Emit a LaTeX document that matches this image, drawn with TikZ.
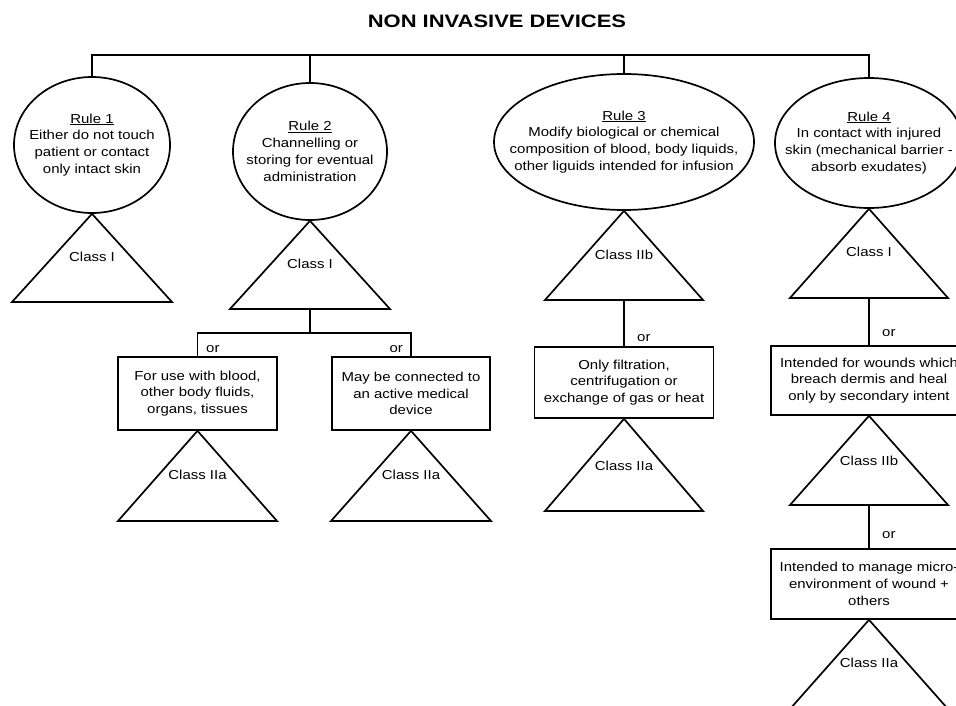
\documentclass[tikz,border=0pt]{standalone}
\usepackage{fontspec}
\setmainfont{Liberation Sans}
\newfontfamily\bodyfont[FakeStretch=1.15]{Liberation Sans}
\newfontfamily\headfont[FakeStretch=1.22]{Liberation Sans}
\usetikzlibrary{shapes.geometric}

\begin{document}
\begin{tikzpicture}[x=1pt,y=-1pt,
  txt/.style={font=\bodyfont\fontsize{13}{16.8}\selectfont, align=center, inner sep=0pt},
  rulebox/.style={draw, ellipse, line width=1.7pt, inner sep=0pt},
  optbox/.style={draw, rectangle, line width=1.7pt, inner sep=0pt, txt},
  link/.style={line width=1.1pt},
  tri/.style={line width=1.7pt, line join=miter},
  cls/.style={txt, fill=white, inner sep=1pt},
  orlab/.style={txt, anchor=west}
]
\useasboundingbox (0,0) rectangle (956,706);
\clip (0,0) rectangle (956,706);

% heading
\node[font=\headfont\bfseries\fontsize{18}{20}\selectfont] (title) at (497,21) {NON INVASIVE DEVICES};

% the four rules
\node[rulebox, minimum width=156pt, minimum height=136pt] (r1) at (92,145) {};
\node[txt] (r1t) at (r1.center) {\underline{Rule 1}\\Either do not touch\\patient or contact\\only intact skin};

\node[rulebox, minimum width=154pt, minimum height=137pt] (r2) at (310,151.5) {};
\node[txt] (r2t) at (r2.center) {\underline{Rule 2}\\Channelling or\\storing for eventual\\administration};

\node[rulebox, minimum width=260pt, minimum height=136pt] (r3) at (624,142) {};
\node[txt] (r3t) at (r3.center) {\underline{Rule 3}\\Modify biological or chemical\\composition of blood, body liquids,\\other liguids intended for infusion};

\node[rulebox, minimum width=188pt, minimum height=130pt] (r4) at (869,143) {};
\node[txt] (r4t) at (r4.center) {\underline{Rule 4}\\In contact with injured\\skin (mechanical barrier -\\absorb exudates)};

% bus from the heading to every rule
\coordinate (bus1) at (92,55);
\coordinate (bus4) at (869,55);
\draw[link] (r1.north) -- (bus1) -- (bus4) -- (r4.north);
\draw[link] (r2.north) -- (r2.north |- bus1);
\draw[link] (r3.north) -- (r3.north |- bus1);

% class triangles under the rules
\draw[tri] (r1.south) -- (12,302) -- (172,302) -- cycle;
\node[cls] (c1) at (92,257) {Class I};
\draw[tri] (r2.south) -- (230,309) -- (390,309) -- cycle;
\node[cls] (c2) at (310,264) {Class I};
\draw[tri] (r3.south) -- (545,300) -- (703,300) -- cycle;
\node[cls] (c3) at (624,255) {Class IIb};
\draw[tri] (r4.south) -- (790,298) -- (948,298) -- cycle;
\node[cls] (c4) at (869,252) {Class I};

\coordinate (t2base) at (310,309);
\coordinate (t3base) at (624,300);
\coordinate (t4base) at (869,298);

% alternative conditions
\node[optbox, minimum width=159pt, minimum height=73pt] (oA) at (197.5,393.5) {For use with blood,\\other body fluids,\\organs, tissues};
\node[optbox, minimum width=158pt, minimum height=73pt] (oB) at (411,393.5) {May be connected to\\an active medical\\device};
\node[optbox, minimum width=179pt, minimum height=71pt] (oC) at (624,382.5) {Only filtration,\\centrifugation or\\exchange of gas or heat};
\node[optbox, minimum width=196pt, minimum height=69pt] (oD) at (869,380.5) {Intended for wounds which\\breach dermis and heal\\only by secondary intent};
\node[optbox, minimum width=196pt, minimum height=70pt] (oE) at (869,584) {Intended to manage micro-\\environment of wound +\\others};

% links to the alternatives
\draw[link] (t2base) -- ++(0,24) coordinate (fork2);
\draw[link] (oA.north) |- (fork2) -| (oB.north);
\node[orlab] (orA) at (206,349) {or};
\node[orlab, anchor=east] (orB) at (403,349) {or};
\draw[link] (t3base) -- (oC.north);
\node[orlab] (orC) at (637,338) {or};
\draw[link] (t4base) -- (oD.north);
\node[orlab] (orD) at (882,333) {or};

% class triangles under the alternatives
\draw[tri] (oA.south) -- (118,521) -- (277,521) -- cycle;
\node[cls] (cA) at (197.5,475) {Class IIa};
\draw[tri] (oB.south) -- (331,521) -- (491,521) -- cycle;
\node[cls] (cB) at (411,475) {Class IIa};
\draw[tri] (oC.south) -- (545,511) -- (703,511) -- cycle;
\node[cls] (cC) at (624,466) {Class IIa};
\draw[tri] (oD.south) -- (790,505) -- (948,505) -- cycle;
\node[cls] (cD) at (869,461) {Class IIb};

\coordinate (tDbase) at (869,505);
\draw[link] (tDbase) -- (oE.north);
\node[orlab] (orE) at (882,535) {or};

\draw[tri] (oE.south) -- (790,709) -- (948,709) -- cycle;
\node[cls] (cE) at (869,663) {Class IIa};
\end{tikzpicture}
\end{document}
